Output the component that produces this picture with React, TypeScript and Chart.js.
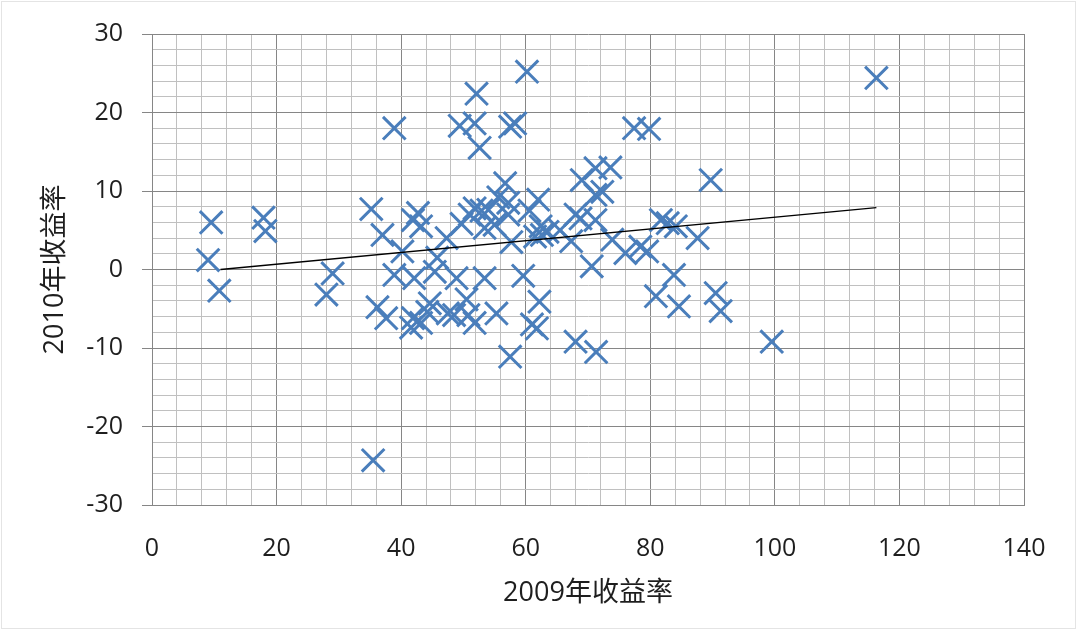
import React, { useEffect, useRef } from "react";
import { Chart, registerables } from "chart.js";

Chart.register(...registerables);

// 2009 returns (x) and 2010 returns (y)
const returns2009 = [
  9.5, 9.0, 10.8, 17.9, 18.2, 29.0, 28.0,
  35.2, 37.0, 38.9, 40.2, 41.9, 42.7, 43.2, 35.5,
  38.9, 42.1, 45.8, 45.4, 48.9, 36.2, 37.6, 41.9, 41.6, 43.2, 44.6, 44.2, 47.5, 50.5, 50.8, 51.8, 55.3, 48.5,
  47.3, 49.7, 51.0, 51.8, 52.9, 54.0, 53.4, 55.0, 55.6, 56.7, 57.2, 57.2, 57.7, 53.4, 49.4, 51.8, 52.6, 52.1, 57.5, 58.3, 60.2,
  60.6, 62.0, 62.4, 63.5, 61.5, 62.6, 65.5, 59.6, 62.2, 61.0, 61.8, 57.5,
  67.3, 68.0, 68.8, 69.0, 71.2, 73.6, 72.3, 71.2, 71.2, 70.6, 73.9, 68.0, 71.3,
  76.0, 78.4, 79.5, 77.4, 79.8, 81.7, 82.8, 84.1, 87.6, 89.7, 83.8, 80.9, 84.6, 90.5, 91.3,
  99.5, 116.3,
];
const returns2010 = [
  6.0, 1.2, -2.7, 6.6, 4.9, -0.5, -3.2,
  7.7, 4.4, 18.0, 2.3, 6.3, 7.2, 5.5, -24.3,
  -0.7, -1.1, 1.5, -0.3, -1.1, -4.8, -6.2, -6.2, -7.4, -6.8, -4.3, -5.4, -5.6, -3.8, -5.8, -6.8, -5.6, -5.8,
  4.0, 5.8, 7.0, 7.8, 7.5, 7.6, 5.3, 5.7, 9.2, 11.0, 8.5, 7.0, 3.5, -1.1, 18.3, 18.6, 15.5, 22.4, 18.2, 18.6, 25.2,
  7.5, 8.9, 5.5, 4.8, 4.2, 4.4, 5.0, -0.8, -4.1, -7.0, -7.5, -11.1,
  3.6, 7.0, 6.5, 11.4, 12.9, 13.0, 9.9, 9.5, 6.3, 0.4, 3.8, -9.2, -10.5,
  2.1, 2.9, 2.3, 18.0, 17.9, 6.3, 5.9, 5.5, 4.0, 11.4, -0.7, -3.4, -4.7, -3.0, -5.3,
  -9.2, 24.4,
];

// Linear trend line
const trendSlope = 0.0748;
const trendIntercept = -0.82;
const trendXRange = [11, 116.3];

const xAxisRange = [0, 140];
const yAxisRange = [-30, 30];
const xTitle = "2009年收益率";
const yTitle = "2010年收益率";

const W = 1077;
const H = 630;
const FONT = "'Open Sans', 'Noto Sans CJK SC', sans-serif";
const MAJOR = "#868686";
const MINOR = "#c0c0c0";
const BLUE = "#4A7EBB";
const TEXT = "#1e1e1e";

export default function App() {
  const ref = useRef<HTMLCanvasElement | null>(null);

  useEffect(() => {
    document.body.style.margin = "0";
    document.body.style.background = "#ffffff";
    const canvas = ref.current;
    if (!canvas) return;
    const points = returns2009.map((x, i) => ({ x, y: returns2010[i] }));
    const trend = trendXRange.map((x) => ({ x, y: trendSlope * x + trendIntercept }));

    const chart = new Chart(canvas, {
      type: "scatter",
      data: {
        datasets: [
          {
            label: "trend",
            data: trend,
            showLine: true,
            borderColor: "#000000",
            borderWidth: 1.3,
            pointRadius: 0,
            fill: false,
          },
          {
            label: "returns",
            data: points,
            pointStyle: "crossRot",
            pointRadius: 16,
            pointHoverRadius: 16,
            pointBorderWidth: 3,
            borderColor: BLUE,
            backgroundColor: BLUE,
            showLine: false,
          },
        ],
      },
      options: {
        animation: false,
        responsive: false,
        devicePixelRatio: 1,
        layout: { padding: { top: 32, right: 53, left: 0, bottom: 0 } },
        plugins: { legend: { display: false }, tooltip: { enabled: false } },
        scales: {
          x: {
            type: "linear",
            min: xAxisRange[0],
            max: xAxisRange[1],
            afterFit: (s: any) => {
              s.height = 125;
            },
            border: { color: MAJOR, width: 1 },
            grid: {
              color: (c: any) => (c.tick && c.tick.value % 20 === 0 ? MAJOR : MINOR),
              tickColor: "transparent",
              tickLength: 0,
              drawTicks: true,
            },
            ticks: {
              stepSize: 4,
              autoSkip: false,
              maxRotation: 0,
              padding: 29,
              color: TEXT,
              font: { family: FONT, size: 25 },
              callback: (v: any) => (Number(v) % 20 === 0 ? String(v) : ""),
            },
            title: {
              display: true,
              text: xTitle,
              color: TEXT,
              font: { family: FONT, size: 27 },
              padding: { top: 0, bottom: 20 },
            },
          },
          y: {
            type: "linear",
            min: yAxisRange[0],
            max: yAxisRange[1],
            afterFit: (s: any) => {
              s.width = 152;
            },
            border: { color: MAJOR, width: 1 },
            grid: {
              color: (c: any) => (c.tick && c.tick.value % 10 === 0 ? MAJOR : MINOR),
              tickColor: (c: any) => (c.tick && c.tick.value % 10 === 0 ? MAJOR : "transparent"),
              tickLength: 10,
            },
            ticks: {
              stepSize: 2,
              autoSkip: false,
              padding: 19,
              color: TEXT,
              font: { family: FONT, size: 25 },
              callback: (v: any) => (Number(v) % 10 === 0 ? String(v) : ""),
            },
            title: {
              display: true,
              text: yTitle,
              color: TEXT,
              font: { family: FONT, size: 27 },
              padding: { top: 39, bottom: 0 },
            },
          },
        },
      },
    });
    return () => chart.destroy();
  }, []);

  return (
    <div style={{ position: "fixed", left: 0, top: 0, width: W, height: H, background: "#fff" }}>
      <canvas ref={ref} width={W} height={H} style={{ display: "block", width: W, height: H }} />
      <div
        style={{
          position: "absolute",
          left: 1,
          top: 1,
          width: W - 4,
          height: H - 4,
          border: "1px solid #e4e4e4",
          pointerEvents: "none",
        }}
      />
    </div>
  );
}
